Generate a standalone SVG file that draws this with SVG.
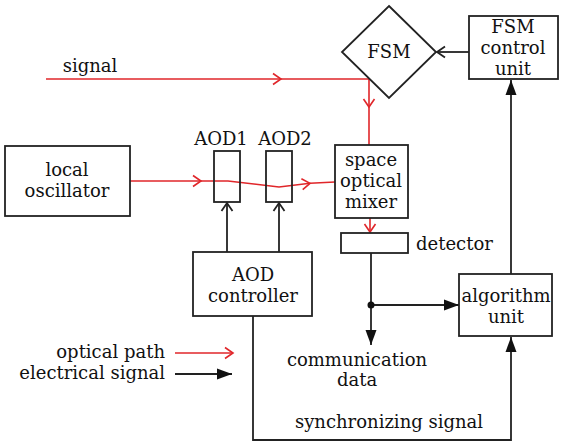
<svg xmlns="http://www.w3.org/2000/svg" width="562" height="443" viewBox="0 0 562 443">
<defs>
<style>
.box{fill:#fff;stroke:#222;stroke-width:1.8}
.hollow{fill:none;stroke:#222;stroke-width:1.8}
.t{font-family:"DejaVu Serif","Liberation Serif",serif;font-size:18px;fill:#111;text-anchor:middle}
.opt{fill:none;stroke:#e0262a;stroke-width:1.6}
.ele{fill:none;stroke:#222;stroke-width:1.8}
</style>
<marker id="ro" markerUnits="userSpaceOnUse" markerWidth="12" markerHeight="14" refX="9" refY="6" orient="auto" viewBox="0 0 12 12"><path d="M1,0.5 L9,6 L1,11.5" fill="none" stroke="#e0262a" stroke-width="1.6"/></marker>
<marker id="bo" markerUnits="userSpaceOnUse" markerWidth="12" markerHeight="14" refX="9" refY="6" orient="auto" viewBox="0 0 12 12"><path d="M1,0.5 L9,6 L1,11.5" fill="none" stroke="#222" stroke-width="1.8"/></marker>
<marker id="bf" markerUnits="userSpaceOnUse" markerWidth="16" markerHeight="12" refX="15" refY="6" orient="auto" viewBox="0 0 16 12"><path d="M0,0.5 L15,6 L0,11.5 z" fill="#111"/></marker>
</defs>
<rect width="562" height="443" fill="#fff"/>

<g id="connectors">
<!-- optical -->
<path class="opt" d="M46 79 H281" marker-end="url(#ro)"/>
<path class="opt" d="M281 79 H369 V107" marker-end="url(#ro)"/>
<path class="opt" d="M369 107 V145"/>
<path class="opt" d="M130 181 H201" marker-end="url(#ro)"/>
<path class="opt" d="M201 181 H228 L279 187 L310 183.3" marker-end="url(#ro)"/>
<path class="opt" d="M310 183.3 L335 182"/>
<path class="opt" d="M370 218 V232" marker-end="url(#ro)"/>
<!-- electrical -->
<path class="ele" d="M227 252 V203" marker-end="url(#bo)"/>
<path class="ele" d="M279 252 V203" marker-end="url(#bo)"/>
<path class="ele" d="M469 52 H437" marker-end="url(#bo)"/>
<path class="ele" d="M511 274 V80" marker-end="url(#bf)"/>
<path class="ele" d="M371 253 V345" marker-end="url(#bf)"/>
<path class="ele" d="M371 305 H459" marker-end="url(#bf)"/>
<circle cx="371" cy="305" r="3.5" fill="#111"/>
<path class="ele" d="M253 316 V440 H511 V337" marker-end="url(#bf)"/>
</g>

<g id="signal-label"><text class="t" x="90" y="72">signal</text></g>

<g id="local-oscillator">
<rect class="box" x="5" y="146" width="125" height="70"/>
<text class="t" x="67" y="176">local</text>
<text class="t" x="67" y="197">oscillator</text>
</g>

<g id="aod1">
<rect class="hollow" x="214" y="151" width="26" height="51"/>
<text class="t" x="221" y="145">AOD1</text>
</g>
<g id="aod2">
<rect class="hollow" x="266" y="151" width="26" height="51"/>
<text class="t" x="285" y="145">AOD2</text>
</g>

<g id="mixer">
<rect class="box" x="335" y="145" width="73" height="73"/>
<text class="t" x="371" y="166">space</text>
<text class="t" x="371" y="187">optical</text>
<text class="t" x="371" y="208">mixer</text>
</g>

<g id="fsm">
<polygon class="box" points="389,6 436,52 389,98 342,52"/>
<text class="t" x="389" y="58">FSM</text>
</g>

<g id="fsm-control">
<rect class="box" x="469" y="16" width="89" height="63"/>
<text class="t" x="513" y="33">FSM</text>
<text class="t" x="513" y="54">control</text>
<text class="t" x="513" y="75">unit</text>
</g>

<g id="detector">
<rect class="box" x="341" y="233" width="67" height="20"/>
<text class="t" x="416" y="250" style="text-anchor:start">detector</text>
</g>

<g id="aod-controller">
<rect class="box" x="193" y="252" width="119" height="64"/>
<text class="t" x="253" y="281">AOD</text>
<text class="t" x="253" y="302">controller</text>
</g>

<g id="algorithm">
<rect class="box" x="459" y="274" width="93" height="62"/>
<text class="t" x="506" y="302">algorithm</text>
<text class="t" x="506" y="323">unit</text>
</g>

<g id="comm-data">
<text class="t" x="357" y="366">communication</text>
<text class="t" x="357" y="386">data</text>
</g>

<g id="sync-label"><text class="t" x="389" y="428">synchronizing signal</text></g>

<g id="legend">
<text class="t" x="165" y="358" style="text-anchor:end">optical path</text>
<text class="t" x="165" y="379" style="text-anchor:end">electrical signal</text>
<path class="opt" d="M175 353 H233" marker-end="url(#ro)"/>
<path class="ele" d="M175 374 H232" marker-end="url(#bf)"/>
</g>
</svg>
